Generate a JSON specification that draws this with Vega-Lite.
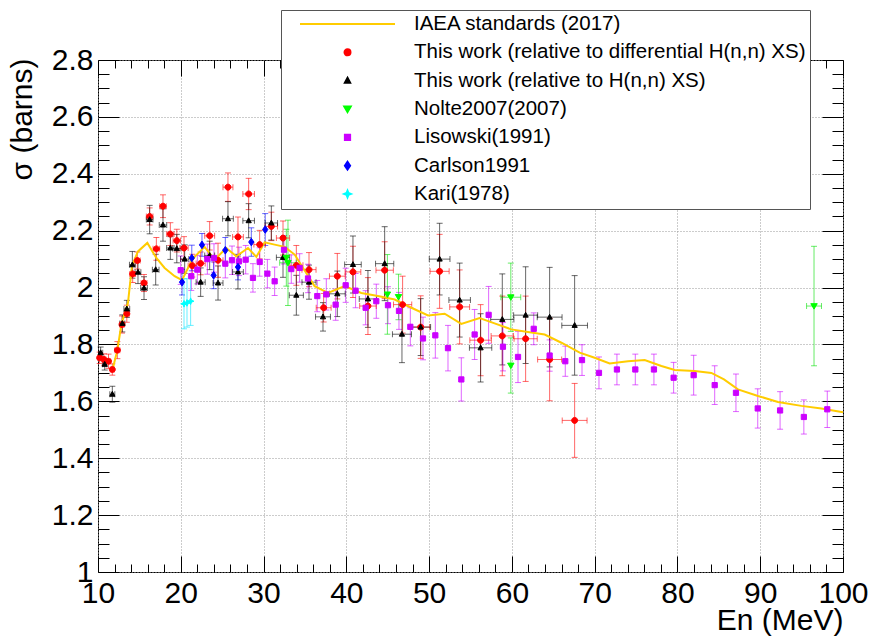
{
  "$schema": "https://vega.github.io/schema/vega-lite/v6.json",
  "width": 745,
  "height": 512,
  "autosize": {"type": "none"},
  "padding": {"left": 98, "top": 60, "right": 30, "bottom": 66},
  "background": "white",
  "config": {
    "view": {"stroke": "#000", "strokeWidth": 1},
    "font": "Liberation Sans",
    "axis": {
      "domain": false, "grid": false, "labels": false,
      "tickColor": "#000", "tickWidth": 1,
      "labelFont": "Liberation Sans", "labelFontSize": 30, "labelColor": "#000",
      "titleFont": "Liberation Sans", "titleFontSize": 30, "titleFontWeight": "normal", "titleColor": "#000",
      "labelFlush": false, "labelOverlap": false,
      "gridColor": "#999", "gridDash": [1, 2], "gridWidth": 1
    }
  },
  "resolve": {"axis": {"x": "independent", "y": "independent"}},
  "datasets": {
    "iaea": [
      {"E": 11.6, "s": 1.71}, {"E": 11.81, "s": 1.718}, {"E": 12.34, "s": 1.78}, {"E": 12.82, "s": 1.87},
      {"E": 13.62, "s": 1.946}, {"E": 14.11, "s": 2.077}, {"E": 14.83, "s": 2.127}, {"E": 15.96, "s": 2.157},
      {"E": 17.05, "s": 2.104}, {"E": 18.05, "s": 2.069}, {"E": 19.26, "s": 2.04}, {"E": 20.15, "s": 2.026},
      {"E": 21.27, "s": 2.092}, {"E": 21.67, "s": 2.108}, {"E": 22.88, "s": 2.143}, {"E": 24.09, "s": 2.098},
      {"E": 25.5, "s": 2.139}, {"E": 26.71, "s": 2.11}, {"E": 28.12, "s": 2.139}, {"E": 29.13, "s": 2.108},
      {"E": 30.13, "s": 2.159}, {"E": 31.34, "s": 2.151}, {"E": 32.55, "s": 2.143}, {"E": 33.76, "s": 2.116},
      {"E": 34.77, "s": 2.069}, {"E": 36.17, "s": 2.005}, {"E": 37.78, "s": 1.981}, {"E": 39.8, "s": 2.005},
      {"E": 41.81, "s": 1.981}, {"E": 43.82, "s": 1.97}, {"E": 45.84, "s": 1.958}, {"E": 47.86, "s": 1.929},
      {"E": 49.87, "s": 1.902}, {"E": 51.88, "s": 1.908}, {"E": 53.89, "s": 1.872}, {"E": 56.1, "s": 1.893},
      {"E": 57.91, "s": 1.874}, {"E": 59.93, "s": 1.853}, {"E": 61.94, "s": 1.844}, {"E": 63.96, "s": 1.835},
      {"E": 65.98, "s": 1.806}, {"E": 68.19, "s": 1.771}, {"E": 70.0, "s": 1.753}, {"E": 71.81, "s": 1.733},
      {"E": 74.03, "s": 1.741}, {"E": 76.04, "s": 1.745}, {"E": 78.06, "s": 1.724}, {"E": 79.67, "s": 1.71},
      {"E": 82.08, "s": 1.707}, {"E": 84.1, "s": 1.7}, {"E": 85.62, "s": 1.677}, {"E": 87.31, "s": 1.642},
      {"E": 89.73, "s": 1.619}, {"E": 92.14, "s": 1.598}, {"E": 94.97, "s": 1.584}, {"E": 97.39, "s": 1.575},
      {"E": 100, "s": 1.562}
    ],
    "pts": [
      {"g": "DIFF", "E": 10.2, "s": 1.753, "ey": 0.02, "ex": 0.25},
      {"g": "DIFF", "E": 10.72, "s": 1.747, "ey": 0.02, "ex": 0.25},
      {"g": "DIFF", "E": 11.27, "s": 1.741, "ey": 0.025, "ex": 0.25},
      {"g": "DIFF", "E": 11.73, "s": 1.712, "ey": 0.02, "ex": 0.25},
      {"g": "DIFF", "E": 12.34, "s": 1.78, "ey": 0.03, "ex": 0.3},
      {"g": "DIFF", "E": 12.9, "s": 1.87, "ey": 0.03, "ex": 0.3},
      {"g": "DIFF", "E": 13.48, "s": 1.908, "ey": 0.03, "ex": 0.3},
      {"g": "DIFF", "E": 14.19, "s": 2.048, "ey": 0.03, "ex": 0.35},
      {"g": "DIFF", "E": 14.75, "s": 2.095, "ey": 0.03, "ex": 0.35},
      {"g": "DIFF", "E": 15.56, "s": 2.016, "ey": 0.03, "ex": 0.35},
      {"g": "DIFF", "E": 16.24, "s": 2.25, "ey": 0.03, "ex": 0.4},
      {"g": "DIFF", "E": 17.05, "s": 2.136, "ey": 0.04, "ex": 0.4},
      {"g": "DIFF", "E": 17.85, "s": 2.286, "ey": 0.04, "ex": 0.4},
      {"g": "DIFF", "E": 18.74, "s": 2.188, "ey": 0.04, "ex": 0.45},
      {"g": "DIFF", "E": 19.52, "s": 2.165, "ey": 0.04, "ex": 0.45},
      {"g": "DIFF", "E": 20.39, "s": 2.139, "ey": 0.04, "ex": 0.5},
      {"g": "DIFF", "E": 21.39, "s": 2.077, "ey": 0.04, "ex": 0.5},
      {"g": "DIFF", "E": 22.4, "s": 2.085, "ey": 0.04, "ex": 0.55},
      {"g": "DIFF", "E": 23.49, "s": 2.182, "ey": 0.05, "ex": 0.6},
      {"g": "DIFF", "E": 24.5, "s": 2.096, "ey": 0.06, "ex": 0.6},
      {"g": "DIFF", "E": 25.7, "s": 2.353, "ey": 0.05, "ex": 0.6},
      {"g": "DIFF", "E": 26.91, "s": 2.178, "ey": 0.07, "ex": 0.65},
      {"g": "DIFF", "E": 28.2, "s": 2.329, "ey": 0.055, "ex": 0.7},
      {"g": "DIFF", "E": 29.53, "s": 2.151, "ey": 0.05, "ex": 0.7},
      {"g": "DIFF", "E": 30.94, "s": 2.215, "ey": 0.05, "ex": 0.75},
      {"g": "DIFF", "E": 32.35, "s": 2.174, "ey": 0.06, "ex": 0.8},
      {"g": "DIFF", "E": 33.96, "s": 2.078, "ey": 0.07, "ex": 0.8},
      {"g": "DIFF", "E": 35.49, "s": 2.063, "ey": 0.06, "ex": 0.85},
      {"g": "DIFF", "E": 37.26, "s": 1.929, "ey": 0.05, "ex": 0.9},
      {"g": "DIFF", "E": 38.91, "s": 2.04, "ey": 0.08, "ex": 0.95},
      {"g": "DIFF", "E": 40.8, "s": 2.055, "ey": 0.09, "ex": 0.95},
      {"g": "DIFF", "E": 42.61, "s": 1.935, "ey": 0.1, "ex": 1.0},
      {"g": "DIFF", "E": 44.63, "s": 2.061, "ey": 0.1, "ex": 1.05},
      {"g": "DIFF", "E": 46.8, "s": 1.94, "ey": 0.1, "ex": 1.1},
      {"g": "DIFF", "E": 48.98, "s": 1.861, "ey": 0.11, "ex": 1.1},
      {"g": "DIFF", "E": 51.27, "s": 2.057, "ey": 0.13, "ex": 1.15},
      {"g": "DIFF", "E": 53.69, "s": 1.932, "ey": 0.13, "ex": 1.2},
      {"g": "DIFF", "E": 56.22, "s": 1.815, "ey": 0.125, "ex": 1.3},
      {"g": "DIFF", "E": 58.84, "s": 1.83, "ey": 0.14, "ex": 1.35},
      {"g": "DIFF", "E": 61.66, "s": 1.82, "ey": 0.15, "ex": 1.4},
      {"g": "DIFF", "E": 64.56, "s": 1.747, "ey": 0.145, "ex": 1.45},
      {"g": "DIFF", "E": 67.58, "s": 1.533, "ey": 0.13, "ex": 1.5},
      {"g": "HNN", "E": 10.32, "s": 1.771, "ey": 0.02, "ex": 0.25},
      {"g": "HNN", "E": 10.81, "s": 1.73, "ey": 0.02, "ex": 0.25},
      {"g": "HNN", "E": 11.73, "s": 1.625, "ey": 0.028, "ex": 0.3},
      {"g": "HNN", "E": 12.94, "s": 1.874, "ey": 0.03, "ex": 0.3},
      {"g": "HNN", "E": 13.48, "s": 1.925, "ey": 0.03, "ex": 0.35},
      {"g": "HNN", "E": 14.15, "s": 2.08, "ey": 0.047, "ex": 0.35},
      {"g": "HNN", "E": 14.83, "s": 2.054, "ey": 0.04, "ex": 0.35},
      {"g": "HNN", "E": 15.56, "s": 1.998, "ey": 0.04, "ex": 0.4},
      {"g": "HNN", "E": 16.24, "s": 2.239, "ey": 0.05, "ex": 0.4},
      {"g": "HNN", "E": 16.97, "s": 2.063, "ey": 0.054, "ex": 0.4},
      {"g": "HNN", "E": 17.85, "s": 2.22, "ey": 0.057, "ex": 0.45},
      {"g": "HNN", "E": 18.74, "s": 2.139, "ey": 0.04, "ex": 0.45},
      {"g": "HNN", "E": 19.52, "s": 2.137, "ey": 0.05, "ex": 0.5},
      {"g": "HNN", "E": 20.47, "s": 2.1, "ey": 0.05, "ex": 0.5},
      {"g": "HNN", "E": 22.4, "s": 2.019, "ey": 0.05, "ex": 0.55},
      {"g": "HNN", "E": 23.49, "s": 2.113, "ey": 0.05, "ex": 0.6},
      {"g": "HNN", "E": 24.5, "s": 2.016, "ey": 0.06, "ex": 0.6},
      {"g": "HNN", "E": 25.7, "s": 2.242, "ey": 0.06, "ex": 0.65},
      {"g": "HNN", "E": 26.91, "s": 2.055, "ey": 0.06, "ex": 0.65},
      {"g": "HNN", "E": 28.2, "s": 2.235, "ey": 0.06, "ex": 0.7},
      {"g": "HNN", "E": 30.94, "s": 2.227, "ey": 0.06, "ex": 0.75},
      {"g": "HNN", "E": 32.35, "s": 2.106, "ey": 0.07, "ex": 0.8},
      {"g": "HNN", "E": 33.96, "s": 1.973, "ey": 0.07, "ex": 0.85},
      {"g": "HNN", "E": 35.49, "s": 2.019, "ey": 0.06, "ex": 0.85},
      {"g": "HNN", "E": 37.18, "s": 1.897, "ey": 0.05, "ex": 0.9},
      {"g": "HNN", "E": 38.91, "s": 1.978, "ey": 0.08, "ex": 0.95},
      {"g": "HNN", "E": 40.8, "s": 2.081, "ey": 0.1, "ex": 1.0},
      {"g": "HNN", "E": 42.61, "s": 1.96, "ey": 0.1, "ex": 1.05},
      {"g": "HNN", "E": 44.63, "s": 2.084, "ey": 0.13, "ex": 1.1},
      {"g": "HNN", "E": 46.72, "s": 1.836, "ey": 0.1, "ex": 1.15},
      {"g": "HNN", "E": 48.98, "s": 1.861, "ey": 0.1, "ex": 1.2},
      {"g": "HNN", "E": 51.27, "s": 2.1, "ey": 0.126, "ex": 1.25},
      {"g": "HNN", "E": 53.69, "s": 1.956, "ey": 0.13, "ex": 1.3},
      {"g": "HNN", "E": 56.22, "s": 1.788, "ey": 0.12, "ex": 1.35},
      {"g": "HNN", "E": 58.84, "s": 1.888, "ey": 0.16, "ex": 1.4},
      {"g": "HNN", "E": 61.66, "s": 1.903, "ey": 0.17, "ex": 1.45},
      {"g": "HNN", "E": 64.56, "s": 1.896, "ey": 0.175, "ex": 1.5},
      {"g": "HNN", "E": 67.58, "s": 1.867, "ey": 0.175, "ex": 1.55},
      {"g": "Nolte", "E": 32.75, "s": 2.105, "ey": 0.1, "ex": 0},
      {"g": "Nolte", "E": 32.95, "s": 2.087, "ey": 0.15, "ex": 1.0},
      {"g": "Nolte", "E": 44.96, "s": 1.976, "ey": 0.14, "ex": 0},
      {"g": "Nolte", "E": 46.3, "s": 1.967, "ey": 0.08, "ex": 0},
      {"g": "Nolte", "E": 59.87, "s": 1.966, "ey": 0.12, "ex": 1.2},
      {"g": "Nolte", "E": 59.87, "s": 1.726, "ey": 0.097, "ex": 0},
      {"g": "Nolte", "E": 96.5, "s": 1.935, "ey": 0.21, "ex": 0.9},
      {"g": "Lisowski", "E": 19.99, "s": 2.061, "ey": 0.05, "ex": 0},
      {"g": "Lisowski", "E": 21.27, "s": 2.04, "ey": 0.05, "ex": 0},
      {"g": "Lisowski", "E": 22.0, "s": 2.063, "ey": 0.05, "ex": 0},
      {"g": "Lisowski", "E": 23.21, "s": 2.1, "ey": 0.053, "ex": 0},
      {"g": "Lisowski", "E": 24.01, "s": 2.104, "ey": 0.05, "ex": 0},
      {"g": "Lisowski", "E": 25.38, "s": 2.084, "ey": 0.05, "ex": 0},
      {"g": "Lisowski", "E": 26.19, "s": 2.096, "ey": 0.05, "ex": 0},
      {"g": "Lisowski", "E": 27.03, "s": 2.092, "ey": 0.05, "ex": 0},
      {"g": "Lisowski", "E": 27.84, "s": 2.098, "ey": 0.05, "ex": 0},
      {"g": "Lisowski", "E": 28.72, "s": 2.034, "ey": 0.05, "ex": 0},
      {"g": "Lisowski", "E": 29.53, "s": 2.09, "ey": 0.05, "ex": 0},
      {"g": "Lisowski", "E": 30.46, "s": 2.049, "ey": 0.05, "ex": 0},
      {"g": "Lisowski", "E": 31.34, "s": 2.022, "ey": 0.05, "ex": 0},
      {"g": "Lisowski", "E": 32.47, "s": 2.133, "ey": 0.05, "ex": 0},
      {"g": "Lisowski", "E": 33.35, "s": 2.065, "ey": 0.05, "ex": 0},
      {"g": "Lisowski", "E": 34.36, "s": 2.069, "ey": 0.05, "ex": 0},
      {"g": "Lisowski", "E": 35.37, "s": 2.032, "ey": 0.05, "ex": 0},
      {"g": "Lisowski", "E": 36.49, "s": 1.97, "ey": 0.055, "ex": 0},
      {"g": "Lisowski", "E": 37.58, "s": 1.976, "ey": 0.055, "ex": 0},
      {"g": "Lisowski", "E": 38.71, "s": 1.94, "ey": 0.055, "ex": 0},
      {"g": "Lisowski", "E": 39.92, "s": 2.008, "ey": 0.06, "ex": 0},
      {"g": "Lisowski", "E": 41.12, "s": 1.989, "ey": 0.06, "ex": 0},
      {"g": "Lisowski", "E": 42.33, "s": 1.929, "ey": 0.06, "ex": 0},
      {"g": "Lisowski", "E": 43.62, "s": 1.952, "ey": 0.06, "ex": 0},
      {"g": "Lisowski", "E": 45.03, "s": 1.938, "ey": 0.065, "ex": 0},
      {"g": "Lisowski", "E": 46.36, "s": 1.918, "ey": 0.065, "ex": 0},
      {"g": "Lisowski", "E": 47.73, "s": 1.862, "ey": 0.067, "ex": 0},
      {"g": "Lisowski", "E": 49.26, "s": 1.821, "ey": 0.075, "ex": 0},
      {"g": "Lisowski", "E": 50.75, "s": 1.832, "ey": 0.08, "ex": 0},
      {"g": "Lisowski", "E": 52.28, "s": 1.787, "ey": 0.08, "ex": 0},
      {"g": "Lisowski", "E": 53.89, "s": 1.677, "ey": 0.076, "ex": 0},
      {"g": "Lisowski", "E": 55.5, "s": 1.835, "ey": 0.088, "ex": 0},
      {"g": "Lisowski", "E": 57.19, "s": 1.904, "ey": 0.1, "ex": 0},
      {"g": "Lisowski", "E": 58.92, "s": 1.792, "ey": 0.085, "ex": 0},
      {"g": "Lisowski", "E": 60.74, "s": 1.756, "ey": 0.09, "ex": 0},
      {"g": "Lisowski", "E": 62.64, "s": 1.855, "ey": 0.056, "ex": 0},
      {"g": "Lisowski", "E": 64.56, "s": 1.761, "ey": 0.055, "ex": 0},
      {"g": "Lisowski", "E": 66.45, "s": 1.741, "ey": 0.053, "ex": 0},
      {"g": "Lisowski", "E": 68.47, "s": 1.745, "ey": 0.054, "ex": 0},
      {"g": "Lisowski", "E": 70.52, "s": 1.7, "ey": 0.056, "ex": 0},
      {"g": "Lisowski", "E": 72.69, "s": 1.712, "ey": 0.054, "ex": 0},
      {"g": "Lisowski", "E": 74.91, "s": 1.712, "ey": 0.054, "ex": 0},
      {"g": "Lisowski", "E": 77.16, "s": 1.712, "ey": 0.054, "ex": 0},
      {"g": "Lisowski", "E": 79.54, "s": 1.683, "ey": 0.054, "ex": 0},
      {"g": "Lisowski", "E": 81.96, "s": 1.692, "ey": 0.07, "ex": 0},
      {"g": "Lisowski", "E": 84.5, "s": 1.657, "ey": 0.068, "ex": 0},
      {"g": "Lisowski", "E": 87.07, "s": 1.63, "ey": 0.066, "ex": 0},
      {"g": "Lisowski", "E": 89.7, "s": 1.575, "ey": 0.069, "ex": 0},
      {"g": "Lisowski", "E": 92.4, "s": 1.568, "ey": 0.066, "ex": 0},
      {"g": "Lisowski", "E": 95.27, "s": 1.545, "ey": 0.06, "ex": 0},
      {"g": "Lisowski", "E": 98.1, "s": 1.572, "ey": 0.064, "ex": 0},
      {"g": "Carlson", "E": 20.15, "s": 2.019, "ey": 0.045, "ex": 0},
      {"g": "Carlson", "E": 21.33, "s": 2.104, "ey": 0.045, "ex": 0},
      {"g": "Carlson", "E": 22.56, "s": 2.15, "ey": 0.04, "ex": 0},
      {"g": "Carlson", "E": 23.97, "s": 2.043, "ey": 0.047, "ex": 0},
      {"g": "Carlson", "E": 25.38, "s": 2.131, "ey": 0.045, "ex": 0},
      {"g": "Carlson", "E": 26.91, "s": 2.072, "ey": 0.045, "ex": 0},
      {"g": "Carlson", "E": 28.52, "s": 2.16, "ey": 0.05, "ex": 0},
      {"g": "Carlson", "E": 30.2, "s": 2.204, "ey": 0.056, "ex": 0},
      {"g": "Kari", "E": 20.39, "s": 1.943, "ey": 0.088, "ex": 0},
      {"g": "Kari", "E": 20.75, "s": 1.946, "ey": 0.085, "ex": 0},
      {"g": "Kari", "E": 21.19, "s": 1.952, "ey": 0.085, "ex": 0}
    ]
  },
  "layer": [
    {
      "data": {"name": "pts"},
      "transform": [{"filter": "datum.ey > 0"}],
      "mark": {"type": "errorbar", "ticks": {"size": 6}, "thickness": 1, "opacity": 0.6},
      "encoding": {
        "x": {"field": "E", "type": "quantitative", "scale": {"domain": [10, 100], "nice": false, "zero": false},
              "axis": {"orient": "top", "values": [10, 20, 30, 40, 50, 60, 70, 80, 90, 100], "tickSize": -16, "title": null}},
        "y": {"field": "s", "type": "quantitative", "scale": {"domain": [1, 2.8], "nice": false, "zero": false},
              "axis": {"orient": "right", "values": [1, 1.2, 1.4, 1.6, 1.8, 2, 2.2, 2.4, 2.6, 2.8], "tickSize": -21, "title": null}},
        "yError": {"field": "ey"},
        "color": {"field": "g", "type": "nominal", "legend": null,
                  "scale": {"domain": ["DIFF", "HNN", "Nolte", "Lisowski", "Carlson", "Kari"],
                            "range": ["#ff0000", "#000000", "#00e000", "#cc00ff", "#0000ff", "#00e5ff"]}}
      }
    },
    {
      "data": {"name": "pts"},
      "transform": [{"filter": "datum.ex > 0"}],
      "mark": {"type": "errorbar", "ticks": {"size": 6}, "thickness": 1, "opacity": 0.6},
      "encoding": {
        "x": {"field": "E", "type": "quantitative", "scale": {"domain": [10, 100], "nice": false, "zero": false},
              "axis": {"orient": "top", "values": [12, 14, 16, 18, 22, 24, 26, 28, 32, 34, 36, 38, 42, 44, 46, 48, 52, 54, 56, 58, 62, 64, 66, 68, 72, 74, 76, 78, 82, 84, 86, 88, 92, 94, 96, 98], "tickSize": -8, "title": null}},
        "y": {"field": "s", "type": "quantitative", "scale": {"domain": [1, 2.8], "nice": false, "zero": false},
              "axis": {"orient": "right", "values": [1.05, 1.1, 1.15, 1.25, 1.3, 1.35, 1.45, 1.5, 1.55, 1.65, 1.7, 1.75, 1.85, 1.9, 1.95, 2.05, 2.1, 2.15, 2.25, 2.3, 2.35, 2.45, 2.5, 2.55, 2.65, 2.7, 2.75], "tickSize": -11, "title": null}},
        "xError": {"field": "ex"},
        "color": {"field": "g", "type": "nominal", "legend": null,
                  "scale": {"domain": ["DIFF", "HNN", "Nolte", "Lisowski", "Carlson", "Kari"],
                            "range": ["#ff0000", "#000000", "#00e000", "#cc00ff", "#0000ff", "#00e5ff"]}}
      }
    },
    {
      "data": {"name": "iaea"},
      "mark": {"type": "line", "color": "#ffcc00", "strokeWidth": 2},
      "encoding": {
        "x": {"field": "E", "type": "quantitative", "scale": {"domain": [10, 100], "nice": false, "zero": false},
              "axis": {"orient": "bottom", "values": [10, 20, 30, 40, 50, 60, 70, 80, 90, 100], "format": "d",
                       "tickSize": -16, "labels": true, "labelPadding": 22, "grid": true,
                       "title": "En (MeV)", "titleAlign": "right", "titleBaseline": "alphabetic", "titleAnchor": "end",
                       "titleX": 745, "titleY": 57}},
        "y": {"field": "s", "type": "quantitative", "scale": {"domain": [1, 2.8], "nice": false, "zero": false},
              "axis": {"orient": "left", "values": [1, 1.2, 1.4, 1.6, 1.8, 2, 2.2, 2.4, 2.6, 2.8], "format": "~g",
                       "tickSize": -21, "labels": true, "labelPadding": 26, "grid": true,
                       "title": "σ (barns)", "titleAngle": -90, "titleAlign": "right", "titleBaseline": "alphabetic",
                       "titleAnchor": "end", "titleX": -67, "titleY": -2}}
      }
    },
    {
      "data": {"name": "pts"},
      "mark": {"type": "point", "filled": true, "size": 9025, "strokeWidth": 1, "opacity": 1},
      "encoding": {
        "x": {"field": "E", "type": "quantitative", "scale": {"domain": [10, 100], "nice": false, "zero": false},
              "axis": {"orient": "bottom", "values": [12, 14, 16, 18, 22, 24, 26, 28, 32, 34, 36, 38, 42, 44, 46, 48, 52, 54, 56, 58, 62, 64, 66, 68, 72, 74, 76, 78, 82, 84, 86, 88, 92, 94, 96, 98], "tickSize": -8, "title": null}},
        "y": {"field": "s", "type": "quantitative", "scale": {"domain": [1, 2.8], "nice": false, "zero": false},
              "axis": {"orient": "left", "values": [1.05, 1.1, 1.15, 1.25, 1.3, 1.35, 1.45, 1.5, 1.55, 1.65, 1.7, 1.75, 1.85, 1.9, 1.95, 2.05, 2.1, 2.15, 2.25, 2.3, 2.35, 2.45, 2.5, 2.55, 2.65, 2.7, 2.75], "tickSize": -11, "title": null}},
        "fill": {"field": "g", "type": "nominal",
                 "scale": {"domain": ["IAEA", "DIFF", "HNN", "Nolte", "Lisowski", "Carlson", "Kari"],
                           "range": ["#ffcc00", "#ff0000", "#000000", "#00ff00", "#cc00ff", "#0000ff", "#00ffff"]},
                 "legend": {"title": null, "orient": "none", "legendX": 183, "legendY": -50, "padding": 4,
                            "fillColor": "#ffffff", "strokeColor": "#555555", "symbolSize": 9025, "symbolStrokeWidth": 2,
                            "clipHeight": 20, "rowPadding": 7.33, "labelFont": "Liberation Sans", "labelFontSize": 20.5,
                            "labelColor": "#000000", "labelLimit": 600, "labelOffset": 18, "symbolOffset": 14, "zindex": 1,
                            "labelExpr": "{'IAEA':'IAEA standards (2017)','DIFF':'This work (relative to differential H(n,n) XS)','HNN':'This work (relative to H(n,n) XS)','Nolte':'Nolte2007(2007)','Lisowski':'Lisowski(1991)','Carlson':'Carlson1991','Kari':'Kari(1978)'}[datum.label]"}},
        "stroke": {"field": "g", "type": "nominal",
                   "scale": {"domain": ["IAEA", "DIFF", "HNN", "Nolte", "Lisowski", "Carlson", "Kari"],
                             "range": ["#ffcc00", "#ff0000", "#000000", "#00ff00", "#cc00ff", "#0000ff", "#00ffff"]},
                   "legend": {"title": null, "orient": "none", "legendX": 183, "legendY": -50, "padding": 4,
                              "fillColor": "#ffffff", "strokeColor": "#555555", "symbolSize": 9025, "symbolStrokeWidth": 2,
                              "clipHeight": 20, "rowPadding": 7.33, "labelFont": "Liberation Sans", "labelFontSize": 20.5,
                              "labelColor": "#000000", "labelLimit": 600, "labelOffset": 18, "symbolOffset": 14, "zindex": 1,
                              "labelExpr": "{'IAEA':'IAEA standards (2017)','DIFF':'This work (relative to differential H(n,n) XS)','HNN':'This work (relative to H(n,n) XS)','Nolte':'Nolte2007(2007)','Lisowski':'Lisowski(1991)','Carlson':'Carlson1991','Kari':'Kari(1978)'}[datum.label]"}},
        "shape": {"field": "g", "type": "nominal",
                  "scale": {"domain": ["IAEA", "DIFF", "HNN", "Nolte", "Lisowski", "Carlson", "Kari"],
                            "range": ["M-1,0H1",
                                      "M-0.063,0A0.063,0.063,0,1,1,0.063,0A0.063,0.063,0,1,1,-0.063,0Z",
                                      "M0,-0.06L0.055,0.042L-0.055,0.042Z",
                                      "M0,0.065L0.068,-0.05L-0.068,-0.05Z",
                                      "M-0.055,-0.055H0.055V0.055H-0.055Z",
                                      "M0,-0.08L0.055,0L0,0.08L-0.055,0Z",
                                      "M0,-0.07L0.02,-0.02L0.07,0L0.02,0.02L0,0.07L-0.02,0.02L-0.07,0L-0.02,-0.02Z"]},
                  "legend": {"title": null, "orient": "none", "legendX": 183, "legendY": -50, "padding": 4,
                             "fillColor": "#ffffff", "strokeColor": "#555555", "symbolSize": 9025, "symbolStrokeWidth": 2,
                             "clipHeight": 20, "rowPadding": 7.33, "labelFont": "Liberation Sans", "labelFontSize": 20.5,
                             "labelColor": "#000000", "labelLimit": 600, "labelOffset": 18, "symbolOffset": 14, "zindex": 1,
                             "labelExpr": "{'IAEA':'IAEA standards (2017)','DIFF':'This work (relative to differential H(n,n) XS)','HNN':'This work (relative to H(n,n) XS)','Nolte':'Nolte2007(2007)','Lisowski':'Lisowski(1991)','Carlson':'Carlson1991','Kari':'Kari(1978)'}[datum.label]"}}
      }
    }
  ]
}
